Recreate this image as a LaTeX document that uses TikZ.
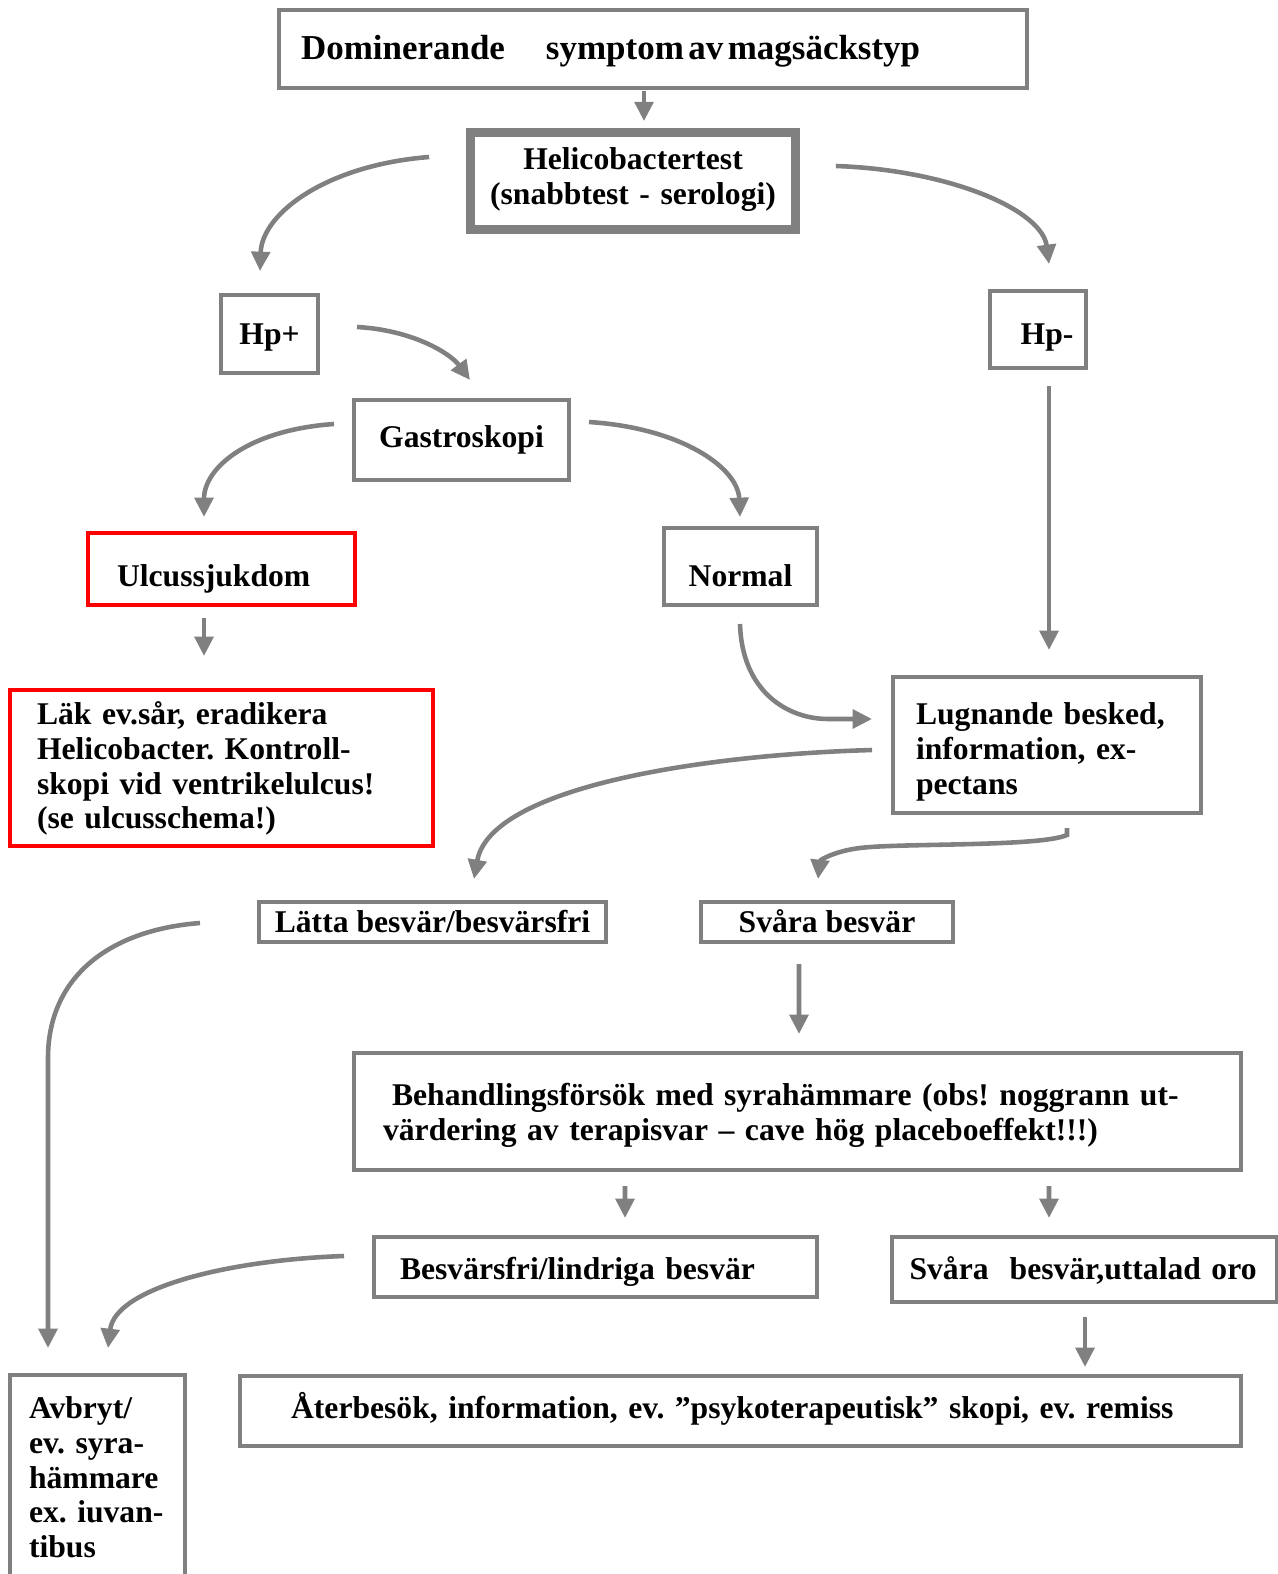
\documentclass[tikz,border=0pt]{standalone}
\usepackage{fontspec}
\setmainfont{Liberation Serif}
\usepackage{tikz}
\usetikzlibrary{arrows.meta, calc}
\definecolor{framegray}{RGB}{128,128,128}
\definecolor{framered}{RGB}{255,0,0}
\frenchspacing

\begin{document}
\begin{tikzpicture}[x=0.02cm, y=-0.02cm,
	flowbox/.style={draw=framegray, line width=2.3pt, inner ysep=0pt, text depth=0pt,
		font=\fontsize{18}{19.75}\selectfont\bfseries},
	redbox/.style={flowbox, draw=framered},
	flowarrow/.style={draw=framegray, line width=2.6pt,
		-{Triangle[length=11pt, width=10.5pt]}}]
	\useasboundingbox (0,0) rectangle (1277,1574);
	\node[flowbox, minimum width=14.96cm, minimum height=1.56cm, inner xsep=0.44cm,
		text width=14.08cm, align=left, text height=0.44cm, font=\fontsize{19.9}{21}\selectfont\bfseries]
		(symptom) at (653,49) {Dominerande\hspace{0.82cm}symptom\hspace{0.09cm}av\hspace{0.09cm}magsäckstyp};
	\node[flowbox, line width=5pt, minimum width=6.5cm, minimum height=1.94cm, inner xsep=0.2cm,
		text width=6.1cm, align=center, text height=0.24cm, text depth=0.694cm]
		(helico) at (633,181) {Helicobactertest\\(snabbtest - serologi)};
	\node[flowbox, minimum width=1.94cm, minimum height=1.56cm, text height=0.41cm] (hpplus) at (269.5,334) {Hp+};
	\node[flowbox, minimum width=1.92cm, minimum height=1.54cm, text height=0.59cm] (hpminus) at (1038,329.5) {\hspace*{0.36cm}Hp-};
	\node[flowbox, minimum width=4.3cm, minimum height=1.6cm, text height=0.31cm] (gastroskopi) at (461.5,440) {Gastroskopi};
	\node[redbox, minimum width=5.34cm, minimum height=1.44cm, inner xsep=0.58cm,
		text width=4.18cm, align=left, text height=0.69cm] (ulcus) at (221.5,569) {Ulcussjukdom};
	\node[flowbox, minimum width=3.06cm, minimum height=1.54cm, text height=0.79cm] (normal) at (740.5,566.5) {Normal};
	\node[redbox, minimum width=8.46cm, minimum height=3.12cm, inner xsep=0.54cm,
		text width=7.38cm, align=left, text height=0.36cm, text depth=2.088cm] (lak) at (221.5,768)
		{Läk ev.sår, eradikera\\Helicobacter. Kontroll-\\skopi vid ventrikelulcus!\\(se ulcusschema!)};
	\node[flowbox, minimum width=6.16cm, minimum height=2.72cm, inner xsep=0.46cm,
		text width=5.24cm, align=left, text height=0.584cm, text depth=1.392cm] (lugnande) at (1047,745)
		{Lugnande besked,\\information, ex-\\pectans};
	\node[flowbox, minimum width=6.94cm, minimum height=0.8cm, text height=0.43cm] (latta) at (432.5,922) {Lätta besvär/besvärsfri};
	\node[flowbox, minimum width=5.04cm, minimum height=0.8cm, text height=0.43cm] (svara) at (827,922) {Svåra besvär};
	\node[flowbox, minimum width=17.74cm, minimum height=2.34cm, inner xsep=0.58cm,
		text width=16.58cm, align=left, text height=0.452cm, text depth=0.696cm] (behandling) at (797.5,1111.5)
		{\hspace*{0.18cm}Behandlingsförsök med syrahämmare (obs! noggrann ut-\\värdering av terapisvar – cave hög placeboeffekt!!!)};
	\node[flowbox, minimum width=8.86cm, minimum height=1.2cm, inner xsep=0.52cm,
		text width=7.82cm, align=left, text height=0.48cm] (besvarsfri) at (595.5,1267) {Besvärsfri/lindriga besvär};
	\node[flowbox, minimum width=7.7cm, minimum height=1.3cm, inner xsep=0.35cm,
		text width=7cm, align=left, text height=0.38cm] (oro) at (1084.5,1269.5) {Svåra\ \ besvär,uttalad oro};
	\node[flowbox, minimum width=3.5cm, minimum height=4.3cm, inner xsep=0.38cm,
		text width=2.74cm, align=left, text height=0.228cm, text depth=2.784cm] (avbryt) at (97.5,1482.5)
		{Avbryt/\\ev. syra-\\hämmare\\ex. iuvan-\\tibus};
	\node[flowbox, minimum width=20.02cm, minimum height=1.4cm, inner xsep=1.02cm,
		text width=17.98cm, align=left, text height=0.3cm] (aterbesok) at (740.5,1411)
		{Återbesök, information, ev. ”psykoterapeutisk” skopi, ev. remiss};

	\draw[flowarrow] ($(symptom.south)+(-9,1)$) -- ($(helico.north)+(11,-7)$);
	\draw[flowarrow] ($(helico.west)+(-37,-24)$)
		.. controls ($(helico.west)+(-139,-16)$) and ($(hpplus.north)+(-7.5,-80)$)
		.. ($(hpplus.north)+(-9.5,-22)$);
	\draw[flowarrow] ($(helico.east)+(36,-15)$)
		.. controls ($(helico.east)+(150,-11)$) and ($(hpminus.north)+(4,-79)$)
		.. ($(hpminus.north)+(11,-25)$);
	\draw[flowarrow] ($(hpplus.east)+(37,-7)$)
		.. controls ($(hpplus.east)+(92,-4)$) and ($(gastroskopi.north)+(-11.5,-45)$)
		.. ($(gastroskopi.north)+(8.5,-18)$);
	\draw[flowarrow] ($(gastroskopi.west)+(-18,-16)$)
		.. controls ($(gastroskopi.west)+(-104,-10)$) and ($(ulcus.north)+(-17.5,-63)$)
		.. ($(ulcus.north)+(-17.5,-14)$);
	\draw[flowarrow] ($(gastroskopi.east)+(18,-18)$)
		.. controls ($(gastroskopi.east)+(111,-12)$) and ($(normal.north)+(-2.5,-58)$)
		.. ($(normal.north)+(-0.5,-9)$);
	\draw[flowarrow] ($(hpminus.south)+(11,16)$) -- ($(lugnande.north)+(2,-25)$);
	\draw[flowarrow] ($(ulcus.south)+(-17.5,11)$) -- ($(lak.north)+(-17.5,-32)$);
	\draw[flowarrow] ($(normal.south)+(-0.5,17)$)
		.. controls ($(normal.south)+(1.5,85)$) and ($(lugnande.west)+(-103,-26)$)
		.. ($(lugnande.west)+(-63,-26)$) -- ($(lugnande.west)+(-19,-26)$);
	\draw[flowarrow] ($(lugnande.west)+(-19,5)$)
		.. controls ($(lugnande.west)+(-193,10)$) and ($(latta.north)+(57.5,-112)$)
		.. ($(latta.north)+(41.5,-21)$);
	\draw[flowarrow] ($(lugnande.south)+(20,13)$) -- ($(lugnande.south)+(20,20)$)
		.. controls ($(lugnande.south)+(-7,32)$) and ($(svara.north)+(73,-57)$)
		.. ($(svara.north)+(33,-52)$)
		.. controls ($(svara.north)+(8,-49)$) and ($(svara.north)+(-7,-40)$)
		.. ($(svara.north)+(-9,-21)$);
	\draw[flowarrow] ($(svara.south)+(-28,20)$) -- ($(behandling.north)+(1.5,-17)$);
	\draw[flowarrow] ($(latta.west)+(-57,1)$)
		.. controls ($(latta.west)+(-149,8)$) and ($(avbryt.north)+(-49.5,-395)$)
		.. ($(avbryt.north)+(-49.5,-315)$) -- ($(avbryt.north)+(-49.5,-25)$);
	\draw[flowarrow] ($(behandling.south)+(-172.5,14)$) -- ($(besvarsfri.north)+(29.5,-17)$);
	\draw[flowarrow] ($(behandling.south)+(251.5,14)$) -- ($(oro.north)+(-35.5,-17)$);
	\draw[flowarrow] ($(besvarsfri.west)+(-28,-11)$)
		.. controls ($(besvarsfri.west)+(-144,-7)$) and ($(avbryt.north)+(17.5,-85)$)
		.. ($(avbryt.north)+(10.5,-25)$);
	\draw[flowarrow] ($(oro.south)+(0.5,13)$) -- ($(aterbesok.north)+(344.5,-7)$);
\end{tikzpicture}
\end{document}
